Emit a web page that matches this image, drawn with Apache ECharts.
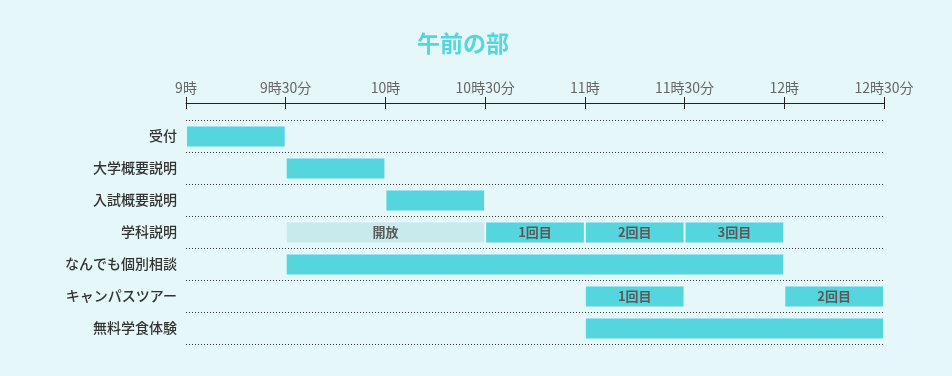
<!DOCTYPE html>
<html><head><meta charset="utf-8">
<script src="https://cdn.jsdelivr.net/npm/echarts@6/dist/echarts.min.js"></script>
<style>html,body{margin:0;padding:0;background:#e6f7fa;}#c{width:952px;height:376px;}</style>
</head><body><div id="c"></div>
<script>
var title = '午前の部';
var categories = ['受付','大学概要説明','入試概要説明','学科説明','なんでも個別相談','キャンパスツアー','無料学食体験'];
var tickMinutes = [540,570,600,630,660,690,720,750];
// tasks: row index, start (min from 0:00), end, label, kind
var taskRows   = [0, 1, 2, 3, 3, 3, 3, 4, 5, 5, 6];
var taskStarts = [540, 570, 600, 570, 630, 660, 690, 570, 660, 720, 660];
var taskEnds   = [570, 600, 630, 630, 660, 690, 720, 720, 690, 750, 750];
var taskLabels = ['', '', '', '開放', '1回目', '2回目', '3回目', '', '1回目', '2回目', ''];
var taskKinds  = ['main','main','main','open','main','main','main','main','main','main','main'];

var data = taskRows.map(function(r,i){ return [taskStarts[i], taskEnds[i], r, taskLabels[i], taskKinds[i]]; });

function fmt(v){ var h=Math.floor(v/60), m=v%60; return m===0 ? h+'時' : h+'時'+m+'分'; }
var font = '"Noto Sans CJK JP", "Noto Sans", sans-serif';
var chart = echarts.init(document.getElementById('c'));
chart.setOption({
  backgroundColor:'#e6f7fa',
  animation:false,
  title:{text:title,left:412,top:27,textStyle:{color:'#55d6de',fontSize:23,fontWeight:'bold',fontFamily:font}},
  grid:{left:186,right:68,top:120,bottom:32},
  xAxis:[{
    type:'value',position:'top',offset:17,min:tickMinutes[0],max:tickMinutes[tickMinutes.length-1],interval:30,
    axisLine:{show:true,lineStyle:{color:'#222',width:1}},
    axisTick:{show:true,length:6,lineStyle:{color:'#222'}},
    axisLabel:{formatter:fmt,color:'#666',fontSize:14,margin:8,fontFamily:font},
    splitLine:{show:false}
  },{
    type:'value',position:'top',offset:17,min:tickMinutes[0],max:tickMinutes[tickMinutes.length-1],interval:30,
    axisLine:{show:false},
    axisTick:{show:true,inside:true,length:6,lineStyle:{color:'#222'}},
    axisLabel:{show:false},splitLine:{show:false}
  }],
  yAxis:{
    type:'category',data:categories,inverse:true,
    axisLine:{show:false},axisTick:{show:false},
    axisLabel:{color:'#333',fontSize:14,fontWeight:500,margin:9,fontFamily:font},
    splitLine:{show:true,lineStyle:{color:'#333',type:[1,2],width:1}}
  },
  series:[{
    type:'custom',xAxisIndex:0,
    encode:{x:[0,1],y:2},
    data:data,
    renderItem:function(params,api){
      var s=api.coord([api.value(0),api.value(2)]);
      var e=api.coord([api.value(1),api.value(2)]);
      var h=20;
      var kind=api.value(4);
      var x0=s[0]+1, x1=e[0]-1;
      var children=[{type:'rect',shape:{x:x0,y:s[1]-h/2+0.5,width:x1-x0,height:h},
        style:{fill: kind==='open' ? '#c8eaec' : '#55d6de'}}];
      var lbl=api.value(3);
      if(lbl){ children.push({type:'text',style:{text:lbl,x:(x0+x1)/2,y:s[1]+0.5,align:'center',verticalAlign:'middle',
        fill:'#5a5a5a',font:'bold 13px '+font}}); }
      return {type:'group',children:children};
    }
  }]
});
</script></body></html>
